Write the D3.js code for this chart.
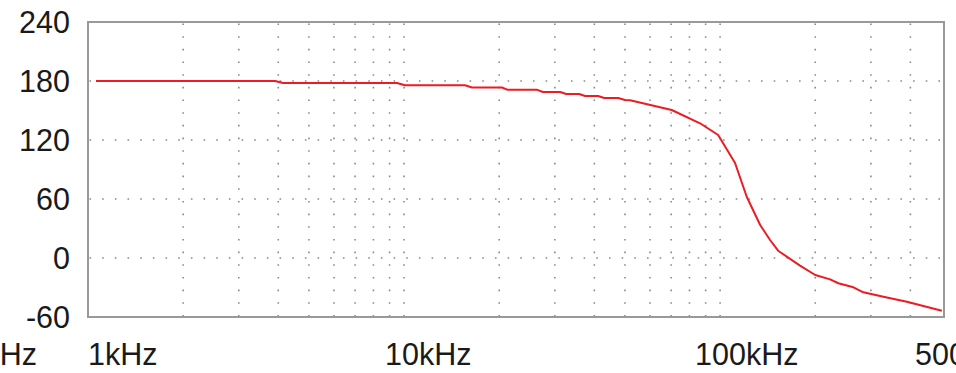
<!DOCTYPE html>
<html>
<head>
<meta charset="utf-8">
<script src="https://cdn.jsdelivr.net/npm/d3@7"></script>
<style>
  body { margin: 0; background: #fff; }
  svg { display: block; }
  text { font-family: Arial, "Liberation Sans", sans-serif; fill: #1a1a1a; }
</style>
</head>
<body>
<script>
// phase response (frequency in Hz, phase in degrees)
var freqs = [1060, 3910, 4140, 9500, 10070, 15600, 16400, 20400, 21300, 26400, 27500,
  31200, 32600, 35800, 37400, 41100, 43000, 47600, 50000, 51900, 70300, 86400, 98600,
  111500, 121400, 133900, 143900, 152600, 179000, 200000, 222900, 236700, 264200,
  284000, 328600, 389900, 503000];
var phase = [180, 180, 178, 178, 175.6, 175.6, 173.4, 173.4, 171, 171, 168.8,
  168.8, 166.8, 166.8, 164.7, 164.7, 162.7, 162.7, 160.7, 160.4, 150.5, 137, 125.1,
  96.6, 62.3, 33.6, 18.3, 7.4, -7.8, -17.3, -21.7, -25.7, -29.8,
  -34.9, -39.4, -44.4, -53.6];

var yTicks = [240, 180, 120, 60, 0, -60];
var yGrid = [180, 120, 60, 0];
var xGrid = [2000, 3000, 4000, 5000, 6000, 7000, 8000, 9000, 10000,
  20000, 30000, 40000, 50000, 60000, 70000, 80000, 90000, 100000,
  200000, 300000, 400000];
var xLabelFreqs = [100, 1000, 10000, 100000, 500000];
var xLabelText = ["100Hz", "1kHz", "10kHz", "100kHz", "500kHz"];

var main = function() {
  var width = 956, height = 373;
  var margin = {top: 22, right: 12, bottom: 56, left: 88};

  var svg = d3.select("body").append("svg")
    .attr("width", width)
    .attr("height", height);

  var x = d3.scaleLog()
    .domain([1000, 511000])
    .range([margin.left, width - margin.right]);

  var y = d3.scaleLinear()
    .domain([-60, 240])
    .range([height - margin.bottom, margin.top]);

  var grid = svg.append("g")
    .attr("stroke", "#8a8a8a")
    .attr("stroke-width", 1.6)
    .attr("stroke-dasharray", "1.6 11.07");

  grid.selectAll(".hg")
    .data(yGrid)
    .enter().append("line")
    .attr("x1", x.range()[0] + 1.5)
    .attr("x2", x.range()[1])
    .attr("y1", function(d) { return y(d); })
    .attr("y2", function(d) { return y(d); });

  grid.selectAll(".vg")
    .data(xGrid)
    .enter().append("line")
    .attr("x1", function(d) { return x(d); })
    .attr("x2", function(d) { return x(d); })
    .attr("y1", y.range()[1] + 1.5)
    .attr("y2", y.range()[0]);

  // plot frame
  svg.append("rect")
    .attr("x", x.range()[0])
    .attr("y", y.range()[1])
    .attr("width", x.range()[1] - x.range()[0])
    .attr("height", y.range()[0] - y.range()[1])
    .attr("fill", "none")
    .attr("stroke", "#999")
    .attr("stroke-width", 2);

  var line = d3.line()
    .x(function(d, i) { return x(freqs[i]); })
    .y(function(d) { return y(d); });

  svg.append("path")
    .datum(phase)
    .attr("fill", "none")
    .attr("stroke", "#ec1c24")
    .attr("stroke-width", 2)
    .attr("stroke-linejoin", "round")
    .attr("d", line);

  // y labels
  svg.append("g").selectAll("text")
    .data(yTicks)
    .enter().append("text")
    .attr("x", 70)
    .attr("y", function(d) { return y(d); })
    .attr("dy", "0.36em")
    .attr("text-anchor", "end")
    .style("font-size", "30.5px")
    .text(function(d) { return d; });

  // x labels (placed a little left of their tick, as in the source)
  var shift = [0, 0, -19, -25, -26];
  svg.append("g").selectAll("text")
    .data(xLabelFreqs)
    .enter().append("text")
    .attr("x", function(d, i) {
      if (i == 0) return 37;
      return x(d) + shift[i];
    })
    .attr("y", 365)
    .attr("text-anchor", function(d, i) { return i == 0 ? "end" : "start"; })
    .style("font-size", "30.5px")
    .text(function(d, i) { return xLabelText[i]; });
}

main();
</script>
</body>
</html>
